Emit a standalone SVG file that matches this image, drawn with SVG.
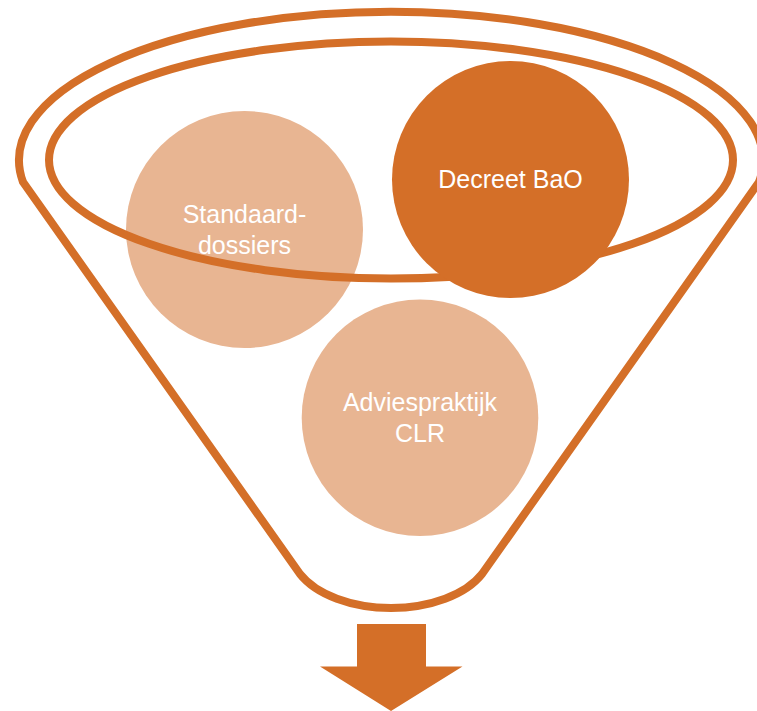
<svg xmlns="http://www.w3.org/2000/svg" width="757" height="711" viewBox="0 0 757 711">
<style>
.light{fill:#E8B592}
.dark{fill:#D46F28}
.ln{fill:none;stroke:#D46F28;stroke-width:8;stroke-linejoin:round}
.t{font-family:"Liberation Sans",Arial,sans-serif;font-size:25px;fill:#FFFFFF;text-anchor:middle}
</style>
<rect width="757" height="711" fill="#FFFFFF"/>
<g id="standaard-dossiers">
<circle class="light" cx="244.5" cy="229.5" r="118.5"/>
<text class="t" x="244.5" y="222.5">Standaard-</text>
<text class="t" x="244.5" y="254">dossiers</text>
</g>
<g id="adviespraktijk-clr">
<circle class="light" cx="420" cy="417.7" r="118.3"/>
<text class="t" x="420" y="410.7">Adviespraktijk</text>
<text class="t" x="420" y="441.7">CLR</text>
</g>
<g id="funnel">
<path class="ln" d="M23,182 L300,574 A100,58 0 0 0 482,574 L759,182 A372,148.5 0 1 0 23,182 Z"/>
<ellipse class="ln" cx="391" cy="160" rx="342" ry="118.5"/>
</g>
<g id="decreet-bao">
<circle class="dark" cx="510.5" cy="179.5" r="118.5"/>
<text class="t" x="510.5" y="188.3">Decreet BaO</text>
</g>
<g id="connectors">
<path class="dark" d="M357,624 H426 V666.5 H462.5 L391,711 L320,666.5 H357 Z"/>
</g>
</svg>
